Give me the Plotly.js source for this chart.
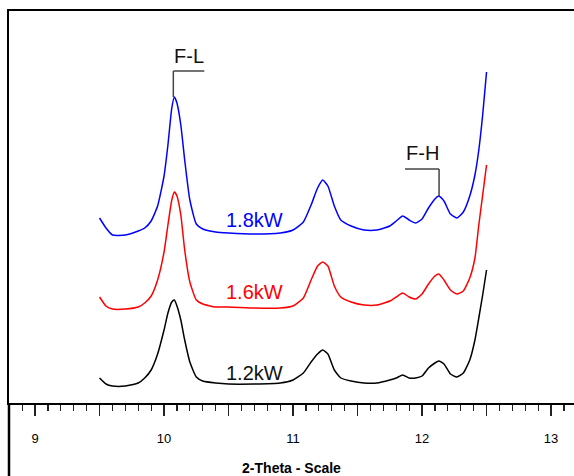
<!DOCTYPE html>
<html>
<head>
<meta charset="utf-8">
<script src="https://cdn.plot.ly/plotly-3.0.1.min.js"></script>
<style>html,body{margin:0;padding:0;background:#fff;}#chart{width:574px;height:476px;}</style>
</head>
<body>
<div id="chart"></div>
<script>
// 2-Theta positions (degrees)
const twoTheta = [9.50, 9.55, 9.60, 9.70, 9.80, 9.85, 9.90, 9.95, 10.00, 10.03, 10.06, 10.08, 10.10, 10.13, 10.16, 10.20, 10.25, 10.30, 10.40, 10.50, 10.70, 10.90, 11.00, 11.08, 11.14, 11.19, 11.23, 11.27, 11.32, 11.37, 11.45, 11.55, 11.65, 11.75, 11.80, 11.85, 11.90, 11.95, 12.00, 12.05, 12.10, 12.13, 12.17, 12.22, 12.27, 12.32, 12.37, 12.41, 12.44, 12.47, 12.50];

// Intensities (arbitrary units, stacked offsets as in the figure)
const int18kW = [185, 175, 168, 168, 172, 175, 182, 197, 227, 258, 295, 306, 300, 278, 243, 203, 179, 174, 171, 170, 169, 170, 173, 181, 198, 215, 223, 217, 197, 183, 177, 173, 173, 177, 182, 187, 183, 180, 184, 195, 204, 207, 202, 189, 185, 191, 207, 228, 253, 288, 331];
const int16kW = [106, 97, 94, 94, 96, 100, 107, 123, 151, 178, 203, 211, 207, 188, 153, 121, 103, 99, 96, 96, 95, 95, 97, 105, 123, 137, 141, 137, 117, 106, 101, 98, 98, 102, 106, 110, 106, 104, 109, 119, 127, 129, 123, 113, 109, 112, 125, 145, 178, 208, 238];
const int12kW = [25, 19, 17, 17, 20, 25, 33, 49, 73, 90, 101, 103, 97, 83, 63, 41, 26, 22, 20, 19, 19, 20, 23, 30, 41, 49, 53, 49, 33, 25, 22, 20, 20, 23, 25, 28, 25, 25, 27, 35, 40, 42, 39, 29, 26, 30, 43, 63, 85, 108, 133];

const seriesNames = ['1.8kW', '1.6kW', '1.2kW'];
const seriesColors = ['#0000ff', '#ff0000', '#000000'];
const peakLabels = ['F-L', 'F-H'];

const FONT = 'Liberation Sans, Arial, sans-serif';

const traces = [int18kW, int16kW, int12kW].map((ys, i) => ({
  x: twoTheta, y: ys, type: 'scatter', mode: 'lines', name: seriesNames[i],
  line: {color: seriesColors[i], width: 1.5, shape: 'spline', smoothing: 0.5},
  hoverinfo: 'skip'
}));

const annotations = [
  {x: 10.70, y: 183, text: seriesNames[0], font: {color: seriesColors[0], size: 20, family: FONT}},
  {x: 10.70, y: 111, text: seriesNames[1], font: {color: seriesColors[1], size: 20, family: FONT}},
  {x: 10.70, y: 30, text: seriesNames[2], font: {color: '#111', size: 20, family: FONT}},
  {x: 10.19, y: 347, text: peakLabels[0], font: {color: '#111', size: 20, family: FONT}},
  {x: 12.00, y: 250, text: peakLabels[1], font: {color: '#111', size: 20, family: FONT}}
].map(a => Object.assign({xref: 'x', yref: 'y', showarrow: false, xanchor: 'center', yanchor: 'middle'}, a));

const lc = {color: '#444', width: 1.5};
const shapes = [
  {type: 'line', xref: 'x', yref: 'y', x0: 10.072, x1: 10.072, y0: 332, y1: 306, line: lc},
  {type: 'line', xref: 'x', yref: 'y', x0: 10.072, x1: 10.312, y0: 332, y1: 332, line: lc},
  {type: 'line', xref: 'x', yref: 'y', x0: 11.868, x1: 12.132, y0: 234, y1: 234, line: lc},
  {type: 'line', xref: 'x', yref: 'y', x0: 12.132, x1: 12.132, y0: 234, y1: 207, line: lc},
  {type: 'line', xref: 'paper', yref: 'paper', x0: 0, x1: 0, y0: -0.25, y1: 0, line: {color: '#000', width: 2.5}}
];

const layout = {
  width: 574, height: 476,
  margin: {l: 9, r: 0, t: 11, b: 73, pad: 0},
  paper_bgcolor: '#fff', plot_bgcolor: '#fff',
  showlegend: false,
  font: {family: FONT, color: '#000'},
  xaxis: {
    range: [8.798, 13.178],
    showgrid: false, zeroline: false,
    showline: true, linecolor: '#000', linewidth: 2, mirror: true,
    ticks: 'outside', tick0: 9, dtick: 0.5, ticklen: 11, tickwidth: 1.2, tickcolor: '#222',
    ticklabelstep: 2, ticklabelstandoff: 11,
    tickfont: {size: 13, family: FONT, color: '#000'},
    minor: {ticks: 'outside', tick0: 9, dtick: 0.1, ticklen: 6, tickwidth: 1.2, tickcolor: '#222', showgrid: false},
    title: {text: '<b>2-Theta - Scale</b>', font: {size: 14, family: FONT, color: '#000'}, standoff: 22},
    automargin: false
  },
  yaxis: {
    range: [0, 392],
    showgrid: false, zeroline: false,
    showline: true, linecolor: '#000', linewidth: 2.5, mirror: false,
    ticks: '', showticklabels: false,
    automargin: false
  },
  annotations: annotations,
  shapes: shapes
};

Plotly.newPlot('chart', traces, layout, {displayModeBar: false, staticPlot: true});
</script>
</body>
</html>
